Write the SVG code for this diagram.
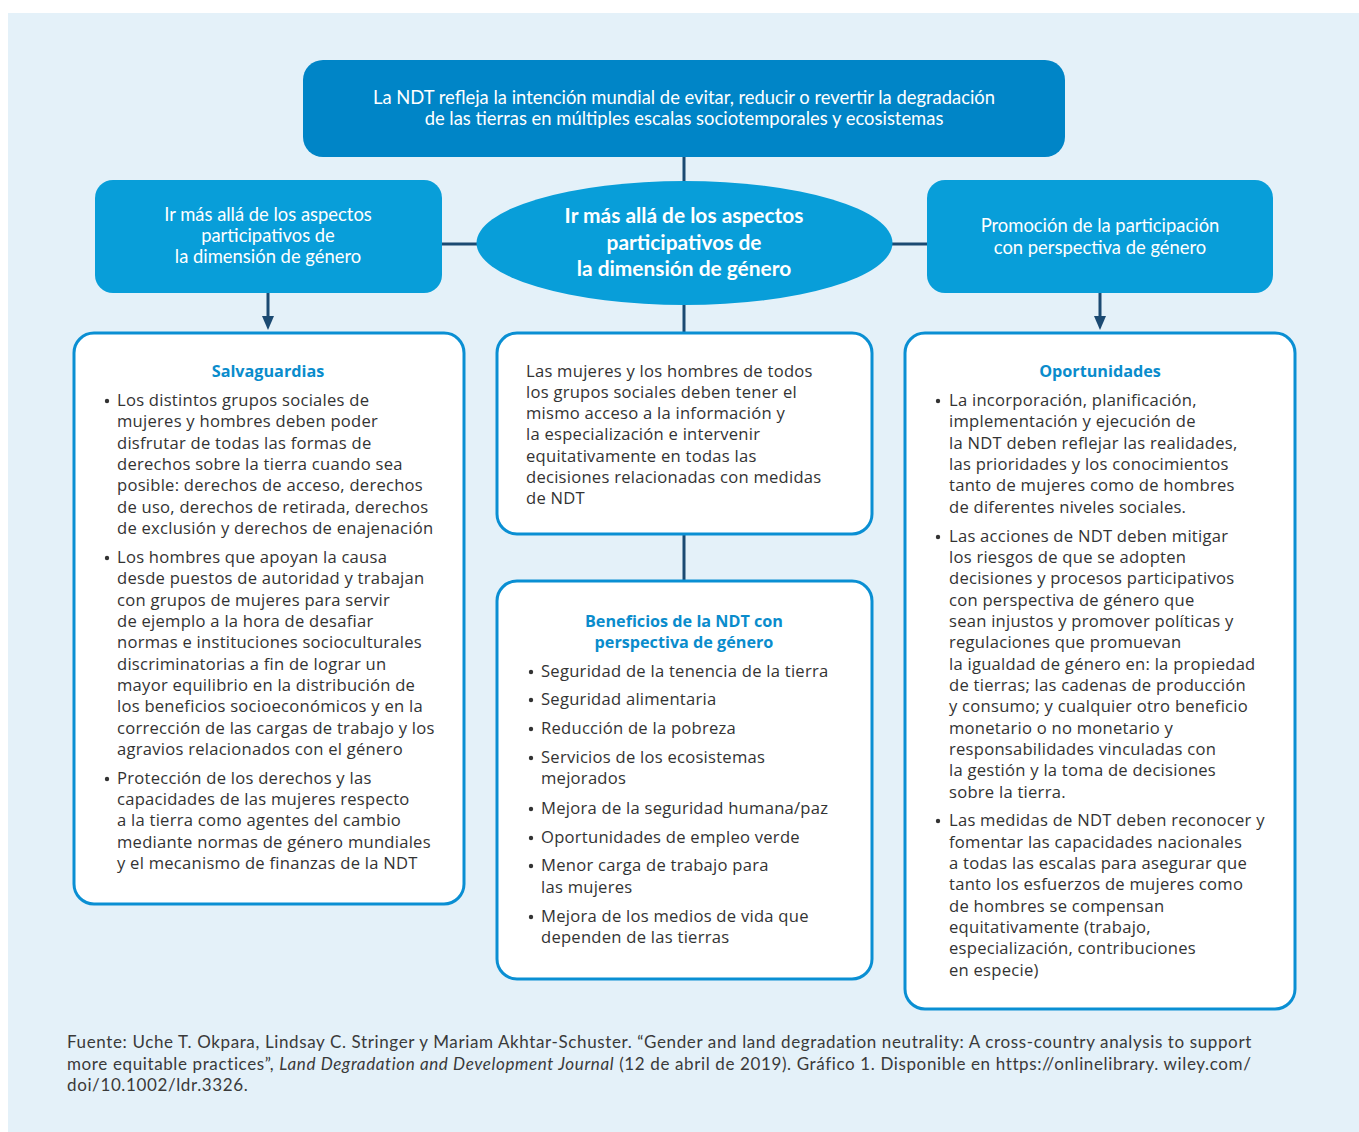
<svg xmlns="http://www.w3.org/2000/svg" width="1359" height="1132" viewBox="0 0 1359 1132">
<style>
.bg{fill:#e4f1f9}
.dark{fill:#0085c7}
.light{fill:#089ed9}
.card{fill:#ffffff;stroke:#0a8fd3;stroke-width:3}
.hw{font-family:Lato,"Liberation Sans",sans-serif;font-size:18.4px;fill:#ffffff;text-anchor:middle}
.hb{font-family:Lato,"Liberation Sans",sans-serif;font-size:20.9px;font-weight:bold;fill:#ffffff;text-anchor:middle}
.t{font-family:"Open Sans","Liberation Sans",sans-serif;font-size:16.6px;letter-spacing:0.25px;fill:#333333}
.ti{font-family:"Open Sans","Liberation Sans",sans-serif;font-size:16.2px;font-weight:bold;fill:#0a8ccc;text-anchor:middle}
.bul{fill:#333333}
.con{stroke:#1b4a72;stroke-width:3;fill:none}
.f{font-family:Lato,"Liberation Sans",sans-serif;font-size:17px;letter-spacing:0.62px;fill:#3a3a3a}
</style>
<rect class="bg" x="8" y="13" width="1351" height="1119"/>

<g id="connectors">
<line class="con" x1="684" y1="157" x2="684" y2="182"/>
<line class="con" x1="442" y1="244" x2="478" y2="244"/>
<line class="con" x1="891" y1="244" x2="927" y2="244"/>
<line class="con" x1="684" y1="303" x2="684" y2="334"/>
<line class="con" x1="684" y1="534" x2="684" y2="582"/>
<line class="con" x1="268" y1="293" x2="268" y2="318"/>
<path d="M262,316 L274,316 L268,330 Z" fill="#1b4a72"/>
<line class="con" x1="1100" y1="293" x2="1100" y2="318"/>
<path d="M1094,316 L1106,316 L1100,330 Z" fill="#1b4a72"/>
</g>

<g id="top">
<rect class="dark" x="303" y="60" width="762" height="97" rx="20"/>
<text class="hw" x="684" y="104">La NDT refleja la intención mundial de evitar, reducir o revertir la degradación</text>
<text class="hw" x="684" y="125">de las tierras en múltiples escalas sociotemporales y ecosistemas</text>
</g>

<g id="left-head">
<rect class="light" x="95" y="180" width="347" height="113" rx="18"/>
<text class="hw" x="268" y="221">Ir más allá de los aspectos</text>
<text class="hw" x="268" y="242">participativos de</text>
<text class="hw" x="268" y="263">la dimensión de género</text>
</g>

<g id="center">
<ellipse class="light" cx="684.5" cy="243" rx="208" ry="62"/>
<text class="hb" x="684" y="223">Ir más allá de los aspectos</text>
<text class="hb" x="684" y="250">participativos de</text>
<text class="hb" x="684" y="276">la dimensión de género</text>
</g>

<g id="right-head">
<rect class="light" x="927" y="180" width="346" height="113" rx="18"/>
<text class="hw" x="1100" y="232">Promoción de la participación</text>
<text class="hw" x="1100" y="254">con perspectiva de género</text>
</g>

<g id="salvaguardias">
<rect class="card" x="74" y="333" width="390" height="571" rx="20"/>
<text class="ti" x="268" y="377">Salvaguardias</text>
<g class="t">
<circle class="bul" cx="107" cy="401" r="2.2"/>
<text x="117" y="406">Los distintos grupos sociales de</text>
<text x="117" y="427">mujeres y hombres deben poder</text>
<text x="117" y="449">disfrutar de todas las formas de</text>
<text x="117" y="470">derechos sobre la tierra cuando sea</text>
<text x="117" y="491">posible: derechos de acceso, derechos</text>
<text x="117" y="513">de uso, derechos de retirada, derechos</text>
<text x="117" y="534">de exclusión y derechos de enajenación</text>
<circle class="bul" cx="107" cy="558" r="2.2"/>
<text x="117" y="563">Los hombres que apoyan la causa</text>
<text x="117" y="584">desde puestos de autoridad y trabajan</text>
<text x="117" y="606">con grupos de mujeres para servir</text>
<text x="117" y="627">de ejemplo a la hora de desafiar</text>
<text x="117" y="648">normas e instituciones socioculturales</text>
<text x="117" y="670">discriminatorias a fin de lograr un</text>
<text x="117" y="691">mayor equilibrio en la distribución de</text>
<text x="117" y="712">los beneficios socioeconómicos y en la</text>
<text x="117" y="734">corrección de las cargas de trabajo y los</text>
<text x="117" y="755">agravios relacionados con el género</text>
<circle class="bul" cx="107" cy="779" r="2.2"/>
<text x="117" y="784">Protección de los derechos y las</text>
<text x="117" y="805">capacidades de las mujeres respecto</text>
<text x="117" y="826">a la tierra como agentes del cambio</text>
<text x="117" y="848">mediante normas de género mundiales</text>
<text x="117" y="869">y el mecanismo de finanzas de la NDT</text>
</g>
</g>

<g id="acceso">
<rect class="card" x="497" y="333" width="375" height="201" rx="20"/>
<g class="t">
<text x="526" y="377">Las mujeres y los hombres de todos</text>
<text x="526" y="398">los grupos sociales deben tener el</text>
<text x="526" y="419">mismo acceso a la información y</text>
<text x="526" y="440">la especialización e intervenir</text>
<text x="526" y="462">equitativamente en todas las</text>
<text x="526" y="483">decisiones relacionadas con medidas</text>
<text x="526" y="504">de NDT</text>
</g>
</g>

<g id="beneficios">
<rect class="card" x="497" y="581" width="375" height="398" rx="20"/>
<text class="ti" x="684" y="627">Beneficios de la NDT con</text>
<text class="ti" x="684" y="648">perspectiva de género</text>
<g class="t">
<circle class="bul" cx="531" cy="672" r="2.2"/>
<text x="541" y="677">Seguridad de la tenencia de la tierra</text>
<circle class="bul" cx="531" cy="700" r="2.2"/>
<text x="541" y="705">Seguridad alimentaria</text>
<circle class="bul" cx="531" cy="729" r="2.2"/>
<text x="541" y="734">Reducción de la pobreza</text>
<circle class="bul" cx="531" cy="758" r="2.2"/>
<text x="541" y="763">Servicios de los ecosistemas</text>
<text x="541" y="784">mejorados</text>
<circle class="bul" cx="531" cy="809" r="2.2"/>
<text x="541" y="814">Mejora de la seguridad humana/paz</text>
<circle class="bul" cx="531" cy="838" r="2.2"/>
<text x="541" y="843">Oportunidades de empleo verde</text>
<circle class="bul" cx="531" cy="866" r="2.2"/>
<text x="541" y="871">Menor carga de trabajo para</text>
<text x="541" y="893">las mujeres</text>
<circle class="bul" cx="531" cy="917" r="2.2"/>
<text x="541" y="922">Mejora de los medios de vida que</text>
<text x="541" y="943">dependen de las tierras</text>
</g>
</g>

<g id="oportunidades">
<rect class="card" x="905" y="333" width="390" height="676" rx="20"/>
<text class="ti" x="1100" y="377">Oportunidades</text>
<g class="t">
<circle class="bul" cx="938" cy="401" r="2.2"/>
<text x="949" y="406">La incorporación, planificación,</text>
<text x="949" y="427">implementación y ejecución de</text>
<text x="949" y="449">la NDT deben reflejar las realidades,</text>
<text x="949" y="470">las prioridades y los conocimientos</text>
<text x="949" y="491">tanto de mujeres como de hombres</text>
<text x="949" y="513">de diferentes niveles sociales.</text>
<circle class="bul" cx="938" cy="537" r="2.2"/>
<text x="949" y="542">Las acciones de NDT deben mitigar</text>
<text x="949" y="563">los riesgos de que se adopten</text>
<text x="949" y="584">decisiones y procesos participativos</text>
<text x="949" y="606">con perspectiva de género que</text>
<text x="949" y="627">sean injustos y promover políticas y</text>
<text x="949" y="648">regulaciones que promuevan</text>
<text x="949" y="670">la igualdad de género en: la propiedad</text>
<text x="949" y="691">de tierras; las cadenas de producción</text>
<text x="949" y="712">y consumo; y cualquier otro beneficio</text>
<text x="949" y="734">monetario o no monetario y</text>
<text x="949" y="755">responsabilidades vinculadas con</text>
<text x="949" y="776">la gestión y la toma de decisiones</text>
<text x="949" y="798">sobre la tierra.</text>
<circle class="bul" cx="938" cy="821" r="2.2"/>
<text x="949" y="826">Las medidas de NDT deben reconocer y</text>
<text x="949" y="848">fomentar las capacidades nacionales</text>
<text x="949" y="869">a todas las escalas para asegurar que</text>
<text x="949" y="890">tanto los esfuerzos de mujeres como</text>
<text x="949" y="912">de hombres se compensan</text>
<text x="949" y="933">equitativamente (trabajo,</text>
<text x="949" y="954">especialización, contribuciones</text>
<text x="949" y="976">en especie)</text>
</g>
</g>

<g id="fuente">
<text class="f" x="67" y="1048">Fuente: Uche T. Okpara, Lindsay C. Stringer y Mariam Akhtar-Schuster. “Gender and land degradation neutrality: A cross-country analysis to support</text>
<text class="f" x="67" y="1070">more equitable practices”, <tspan font-style="italic">Land Degradation and Development Journal</tspan> (12 de abril de 2019). Gráfico 1. Disponible en https://onlinelibrary. wiley.com/</text>
<text class="f" x="67" y="1091">doi/10.1002/ldr.3326.</text>
</g>
</svg>
